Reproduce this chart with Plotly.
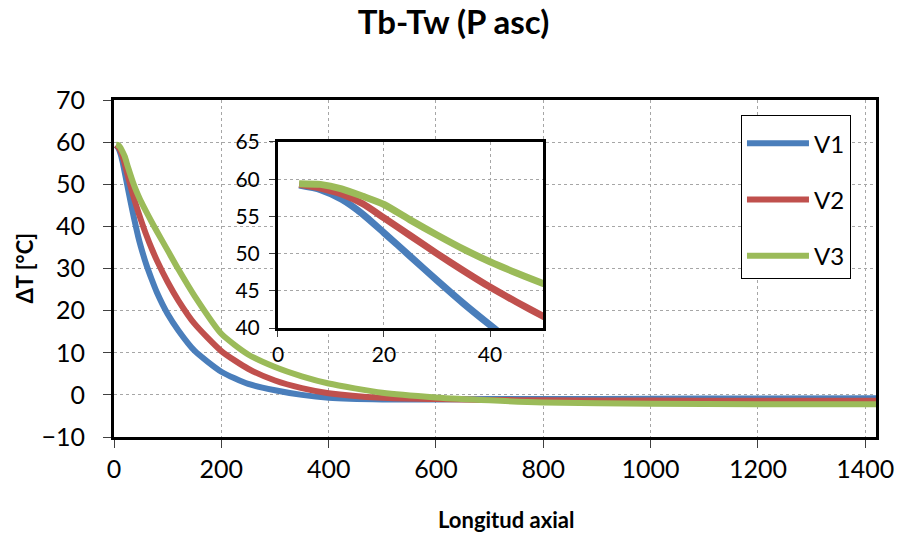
import plotly.graph_objects as go

# ===============================
# DATA
# ===============================
x_axial = [4, 8, 12, 16, 20, 25, 30, 35, 40, 45, 50, 60, 70, 80, 100, 120, 150,
           200, 250, 300, 350, 400, 500, 600, 700, 800, 1000, 1200, 1420]

v1 = [59.2, 58.6, 57.3, 55.3, 52.8, 49.6, 46.4, 43.3, 40.4, 37.6, 35.2, 31.0, 27.5,
      24.3, 19.2, 15.3, 10.5, 5.5, 2.6, 1.1, 0.0, -0.7, -1.1, -1.1, -1.0, -1.0,
      -0.9, -0.85, -0.8]
v2 = [59.3, 58.8, 58.0, 56.7, 54.8, 52.4, 50.0, 47.7, 45.5, 43.5, 41.6, 38.0, 34.8,
      31.9, 26.8, 22.4, 16.9, 10.4, 6.2, 3.4, 1.6, 0.4, -0.7, -1.0, -1.2, -1.3,
      -1.35, -1.4, -1.4]
v3 = [59.4, 59.3, 58.7, 57.7, 56.6, 54.5, 52.5, 50.6, 48.9, 47.4, 46.0, 43.5, 41.1,
      38.8, 34.3, 29.8, 23.5, 14.5, 9.6, 6.6, 4.4, 2.7, 0.5, -0.6, -1.3, -1.8,
      -2.1, -2.2, -2.2]

series = [("V1", v1, "#4a7ebb"), ("V2", v2, "#c0504d"), ("V3", v3, "#9bbb59")]

main_ticks = [0, 200, 400, 600, 800, 1000, 1200, 1400]
inset_ticks = [0, 20, 40]

FONT = "Lato"

fig = go.Figure()

# main plot
for name, vals, col in series:
    fig.add_trace(go.Scatter(
        x=x_axial, y=vals, mode="lines", name=name,
        line=dict(color=col, width=6, shape="spline", smoothing=0.6),
        legendgroup=name, xaxis="x", yaxis="y",
    ))

# inset (zoom on the entrance region)
for name, vals, col in series:
    fig.add_trace(go.Scatter(
        x=x_axial, y=vals, mode="lines", name=name, showlegend=False,
        line=dict(color=col, width=7, shape="spline", smoothing=0.6),
        xaxis="x2", yaxis="y2", hoverinfo="skip",
    ))

grid = dict(showgrid=True, gridcolor="#a6a6a6", gridwidth=1, griddash="dot",
            showline=True, linecolor="black", linewidth=3, mirror=True,
            ticks="outside", tickcolor="#404040", zeroline=False,
            automargin=False)

fig.update_layout(
    width=898, height=536,
    margin=dict(l=114, r=22, t=100, b=99),
    paper_bgcolor="white", plot_bgcolor="white",
    font=dict(family=FONT, size=25, color="black"),
    title=dict(text="<b>Tb-Tw (P asc)</b>", x=0.505, xanchor="center",
               y=0.958, yanchor="middle", font=dict(size=33)),
    xaxis=dict(range=[0, 1420], tickvals=main_ticks, ticklen=8,
               tickfont=dict(size=25), **grid),
    yaxis=dict(range=[-10, 70], dtick=10, ticklen=8, ticklabelstandoff=13,
               tickfont=dict(size=25), **grid),
    xaxis2=dict(domain=[0.2152, 0.5630], anchor="y2", range=[0, 50],
                tickvals=inset_ticks, ticklen=6, tickfont=dict(size=21), **grid),
    yaxis2=dict(domain=[0.3234, 0.8754], anchor="x2", range=[40, 65], dtick=5,
                ticklen=6, ticklabelstandoff=5, tickfont=dict(size=21), **grid),
    legend=dict(x=0.8228, y=0.9555, xanchor="left", yanchor="top",
                bgcolor="white", bordercolor="black", borderwidth=1,
                font=dict(size=24), tracegroupgap=22, traceorder="grouped",
                itemwidth=62, title=dict(text=" ", font=dict(size=4))),
    showlegend=True,
    annotations=[
        dict(text="<b>Longitud axial</b>", xref="paper", yref="paper",
             x=0.515, y=-0.246, xanchor="center", yanchor="middle",
             showarrow=False, font=dict(size=22)),
        dict(text="<b>ΔT [°C]</b>", xref="paper", yref="paper",
             x=-0.118, y=0.5, xanchor="center", yanchor="middle",
             textangle=-90, showarrow=False, font=dict(size=22)),
    ],
)

# the default page keeps an 8px body margin; drop it so the figure fills the window
fig.write_html("out.html", config={"displayModeBar": False},
               post_script="document.body.style.margin='0';")
